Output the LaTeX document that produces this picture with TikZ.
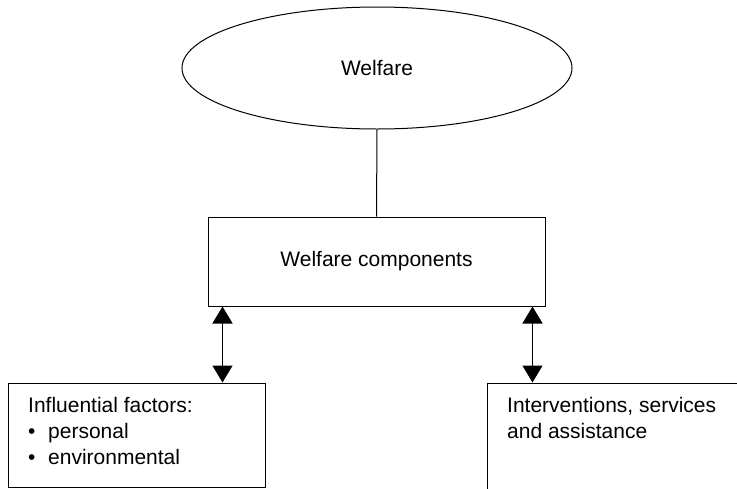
\documentclass[tikz,border=0pt]{standalone}
\usepackage{fontspec}
\setmainfont{Liberation Sans}
\usetikzlibrary{arrows.meta,shapes.geometric,calc}
\begin{document}
\begin{tikzpicture}[x=1pt,y=-1pt,
  every node/.style={font=\fontsize{21}{26}\selectfont},
  box/.style={draw, line width=1pt, rectangle, inner sep=0},
  txt/.style={inner sep=0, anchor=base west},
  link/.style={line width=1pt},
  dbl/.style={line width=1.3pt, {Triangle[width=20pt,length=17pt]}-{Triangle[width=20pt,length=17pt]}}]
\useasboundingbox (0,0) rectangle (737,488);
\node[draw, ellipse, line width=1pt, minimum width=390pt, minimum height=122pt, inner sep=0] (welfare) at (377,68) {Welfare};
\node[box, minimum width=337pt, minimum height=89pt] (comp) at (376.5,261.5) {Welfare components};
\node[box, minimum width=257pt, minimum height=104pt] (lf) at (136.5,435) {};
\node[box, minimum width=280pt, minimum height=130pt] (rf) at (627,448) {};
\node[txt] (l1) at (28,412) {Influential factors:};
\node[txt] (l2) at (28,438) {\makebox[20pt][l]{•}personal};
\node[txt] (l3) at (28,464) {\makebox[20pt][l]{•}environmental};
\node[txt] (r1) at (507,412) {Interventions, services};
\node[txt] (r2) at (507,438) {and assistance};
\coordinate (la) at ($(comp.south west)+(15,0)$);
\coordinate (ra) at ($(comp.south east)+(-13,0)$);
\draw[link] (welfare.south) -- (comp.north);
\draw[dbl] (la) -- (la |- lf.north);
\draw[dbl] (ra) -- (ra |- rf.north);
\end{tikzpicture}
\end{document}
